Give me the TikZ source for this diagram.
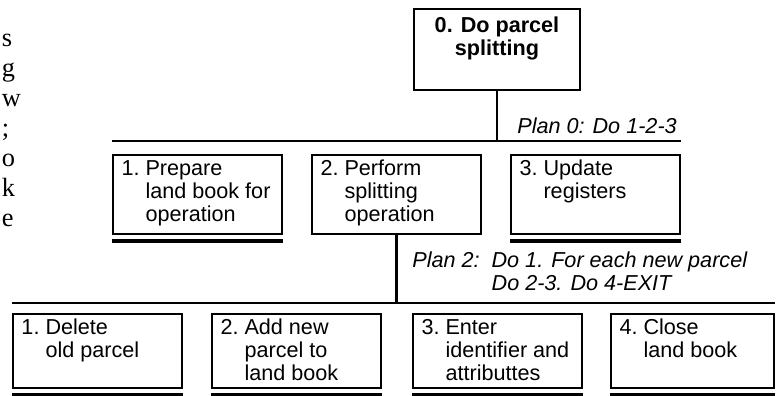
\documentclass[tikz,border=0pt]{standalone}
\usepackage{fontspec}
\setmainfont{Liberation Sans}
\newfontfamily\pageserif{Liberation Serif}
\usetikzlibrary{positioning,calc}
\tikzset{box/.style={draw,line width=1pt,inner xsep=0.17cm,inner ysep=0.08cm,text height=0.33cm,text depth=1.09cm,font=\fontsize{12.3}{13.1}\selectfont},
  leaf/.style={box,text depth=0.99cm},
  plan/.style={inner sep=0pt,anchor=base west,font=\fontsize{12.3}{13.1}\selectfont\itshape},
  conn/.style={line width=1.6pt},
  under/.style={line width=2.2pt}}
\newcommand{\htask}[3][3.04cm]{\makebox[#1][l]{\begin{tabular}[t]{@{}l@{\ }l@{}}#2.&#3\end{tabular}}}

\begin{document}
\begin{tikzpicture}
\useasboundingbox (0,0) rectangle (15.52,7.9);
% line ends of the page text on the left
\foreach \ch [count=\i from 0] in {s,g,w,;,o,k,e}
  \node[anchor=base west,inner sep=0pt,font=\pageserif\fontsize{15}{18}\selectfont] (frag\i) at (0.03,6.98-0.6*\i) {\ch};
\node[box,line width=1.2pt,minimum width=3.32cm,text height=0.38cm,text depth=1.08cm] (task0) at (9.94,6.91) {\begin{tabular}[t]{@{}c@{}}\bfseries 0. Do parcel\\ \bfseries splitting\end{tabular}};
\node[box] (prep) at (3.95,4.01) {\htask{1}{Prepare\\&land book for\\&operation}};
\node[box] (split) at (7.93,4.01) {\htask{2}{Perform\\&splitting\\&operation}};
\node[box] (upd) at (11.91,4.01) {\htask{3}{Update\\&registers}};
\node[leaf] (del) at (1.95,0.88) {\htask{1}{Delete\\&old parcel}};
\node[leaf] (add) at (5.93,0.88) {\htask{2}{Add new\\&parcel to\\&land book}};
\node[leaf] (enter) at (9.95,0.88) {\htask{3}{Enter\\&identifier and\\&attributtes}};
\node[leaf] (close) at (13.85,0.88) {\htask[2.92cm]{4}{Close\\&land book}};
\coordinate (bar0) at (9.94,5.08);
\coordinate (bar2) at (7.93,1.84);
\draw[conn] (task0.south) -- (bar0);
\draw[conn] (prep.north west |- bar0) -- (upd.north east |- bar0);
\draw[conn] (split.south) -- (bar2);
\draw[conn] (del.north west |- bar2) -- (close.north east |- bar2);
\foreach \t in {prep,upd,del,add,enter,close}
  \draw[under] ([yshift=-1.3mm]\t.south west) -- ([yshift=-1.3mm]\t.south east);
\node[plan] (plan0) at ([shift={(0.4,0.16)}]bar0) {Plan 0: Do 1-2-3};
\node[plan] (plan2) at ([shift={(0.31,0.72)}]bar2) {\begin{tabular}[t]{@{}l@{\hspace{0.24cm}}l@{}}Plan 2:&Do 1. For each new parcel\\&Do 2-3. Do 4-EXIT\end{tabular}};
\end{tikzpicture}
\end{document}
